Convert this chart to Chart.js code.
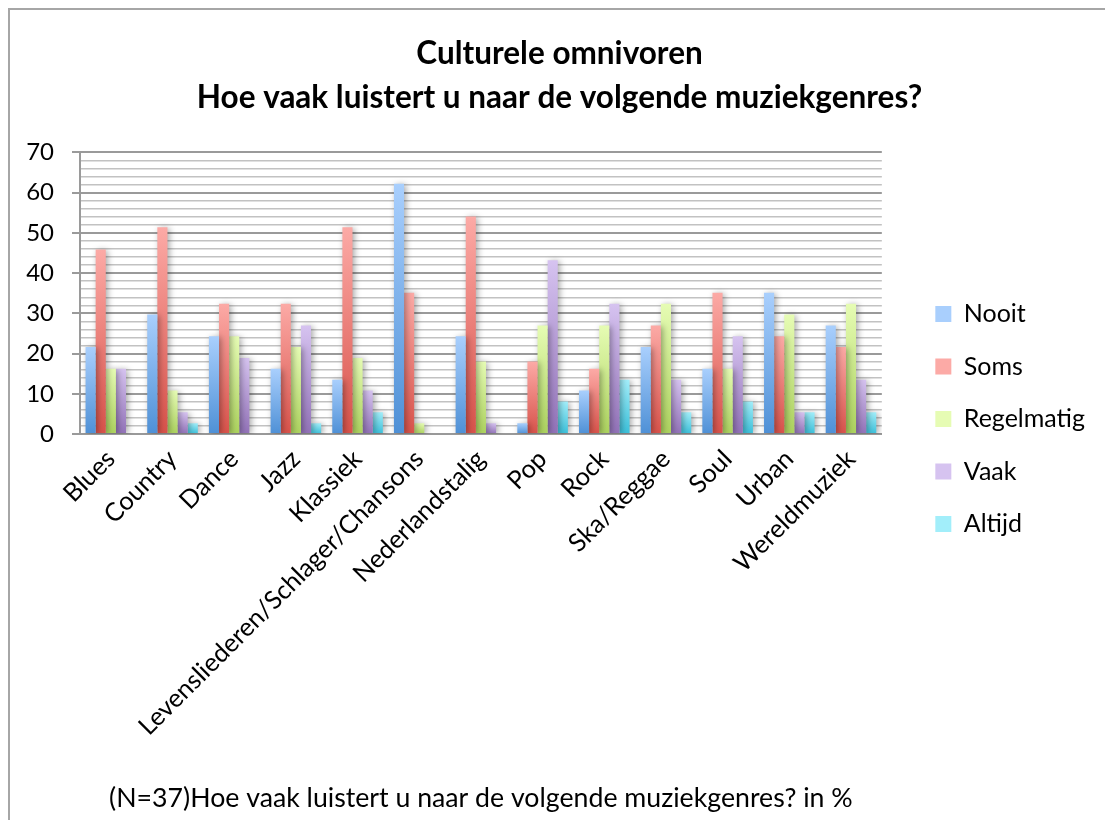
<!DOCTYPE html>
<html><head><meta charset="utf-8">
<script src="https://cdn.jsdelivr.net/npm/chart.js@4.4.0/dist/chart.umd.min.js"></script>
<style>
html,body{margin:0;padding:0;background:#fff;overflow:hidden}
#frame{position:absolute;left:8px;top:8px;width:1200px;height:900px;border-left:2px solid #a6a6a6;border-top:2px solid #a6a6a6}
#wrap{position:absolute;left:0;top:0;width:1105px;height:820px}
</style></head>
<body>
<div id="frame"></div>
<div id="wrap"><canvas id="c" width="1105" height="820"></canvas></div>
<script>
const categories = ["Blues","Country","Dance","Jazz","Klassiek","Levensliederen/Schlager/Chansons","Nederlandstalig","Pop","Rock","Ska/Reggae","Soul","Urban","Wereldmuziek"];
const nooit      = [21.6, 29.7, 24.3, 16.2, 13.5, 62.2, 24.3,  2.7, 10.8, 21.6, 16.2, 35.1, 27.0];
const soms       = [45.9, 51.4, 32.4, 32.4, 51.4, 35.1, 54.1, 18.0, 16.2, 27.0, 35.1, 24.3, 21.6];
const regelmatig = [16.2, 10.8, 24.3, 21.6, 18.9,  2.7, 18.0, 27.0, 27.0, 32.4, 16.2, 29.7, 32.4];
const vaak       = [16.2,  5.4, 18.9, 27.0, 10.8,  0,    2.7, 43.2, 32.4, 13.5, 24.3,  5.4, 13.5];
const altijd     = [ 0,    2.7,  0,    2.7,  5.4,  0,    0,    8.1, 13.5,  5.4,  8.1,  5.4,  5.4];
const seriesNames = ["Nooit","Soms","Regelmatig","Vaak","Altijd"];
const yTicks = [0,10,20,30,40,50,60,70];
const title = ["Culturele omnivoren","Hoe vaak luistert u naar de volgende muziekgenres?"];
const footnote = "(N=37)Hoe vaak luistert u naar de volgende muziekgenres? in %";

const palette = [
  ["#a9cffd","#4e90d6"],
  ["#fcaaa6","#d8524a"],
  ["#e6fcb4","#acd25e"],
  ["#d6c3f0","#9272b8"],
  ["#a2eefa","#3bc0da"]
];
const seriesData = [nooit, soms, regelmatig, vaak, altijd];
const FONT = "Lato, 'Open Sans', sans-serif";

function barFill(i){
  return function(ctx){
    const chart = ctx.chart;
    const ys = chart.scales && chart.scales.y;
    if(!chart.chartArea || !ys || ctx.type !== 'data') return palette[i][1];
    const top = ys.getPixelForValue(ctx.raw || 0);
    const bot = ys.getPixelForValue(0);
    if (!(bot - top > 0.5)) return palette[i][0];
    const g = chart.ctx.createLinearGradient(0, top, 0, bot);
    g.addColorStop(0, palette[i][0]);
    g.addColorStop(1, palette[i][1]);
    return g;
  };
}

const shadowPlugin = {
  id:'shadow',
  beforeDatasetsDraw(chart){
    const c = chart.ctx; c.save();
    c.shadowColor='rgba(0,0,0,0.35)'; c.shadowBlur=6; c.shadowOffsetX=2; c.shadowOffsetY=1;
  },
  afterDatasetsDraw(chart){ chart.ctx.restore(); }
};

// nudge legend and title boxes to Excel-like positions
const boxShift = {
  id:'boxShift',
  afterLayout(chart){
    const lg = chart.legend;
    if(lg){ lg.left += 26; lg.right += 26; lg.top += 9; lg.bottom += 9; }
    const tb = chart.titleBlock;
    if(tb){ tb.left += 25; tb.right += 25; }
  }
};

new Chart(document.getElementById('c'), {
  type:'bar',
  data:{
    labels:categories,
    datasets: seriesNames.map((n,i)=>({
      label:n, data:seriesData[i], backgroundColor:barFill(i), borderWidth:0,
      categoryPercentage:0.82, barPercentage:1.0
    }))
  },
  plugins:[shadowPlugin, boxShift],
  options:{
    responsive:false, animation:false,
    layout:{padding:{left:0,right:36,top:0,bottom:0}},
    plugins:{
      title:{display:true, text:title, color:'#000', font:{family:FONT, size:31.5, weight:'bold', lineHeight:1.42}, padding:{top:31,bottom:32}},
      legend:{position:'right', align:'center',
        labels:{color:'#000', font:{family:FONT,size:25}, boxWidth:16, boxHeight:16, padding:27.5,
          generateLabels(chart){
            return seriesNames.map((n,i)=>({text:n, fillStyle:palette[i][0], strokeStyle:'rgba(0,0,0,0)', lineWidth:0, datasetIndex:i, hidden:false}));
          }
        }
      },
      tooltip:{enabled:false}
    },
    scales:{
      x:{
        grid:{display:false},
        border:{display:true,color:'#999',width:2},
        ticks:{color:'#000', font:{family:FONT,size:25.4}, maxRotation:45, minRotation:45, autoSkip:false, padding:2},
        title:{display:true, text:footnote, color:'#000', font:{family:FONT,size:26.7}, padding:{top:0,bottom:6}},
        afterFit(s){ s.height = 386; }
      },
      y:{
        min:0, max:70,
        afterFit(s){ s.width = 80; },
        ticks:{stepSize:2, autoSkip:false, color:'#000', font:{family:FONT,size:24}, padding:18,
          callback:(v)=> yTicks.includes(v) ? String(v) : ''},
        grid:{
          color:(c)=> (c.tick && c.tick.value % 10 === 0) ? '#9a9a9a' : '#c2c2c2',
          lineWidth:(c)=> (c.tick && c.tick.value % 10 === 0) ? 2 : 1.5,
          tickColor:(c)=> (c.tick && c.tick.value % 10 === 0) ? '#9a9a9a' : 'rgba(0,0,0,0)',
          tickLength:8, drawTicks:true
        },
        border:{display:true,color:'#9a9a9a',width:2}
      }
    }
  }
});
</script>
</body></html>
